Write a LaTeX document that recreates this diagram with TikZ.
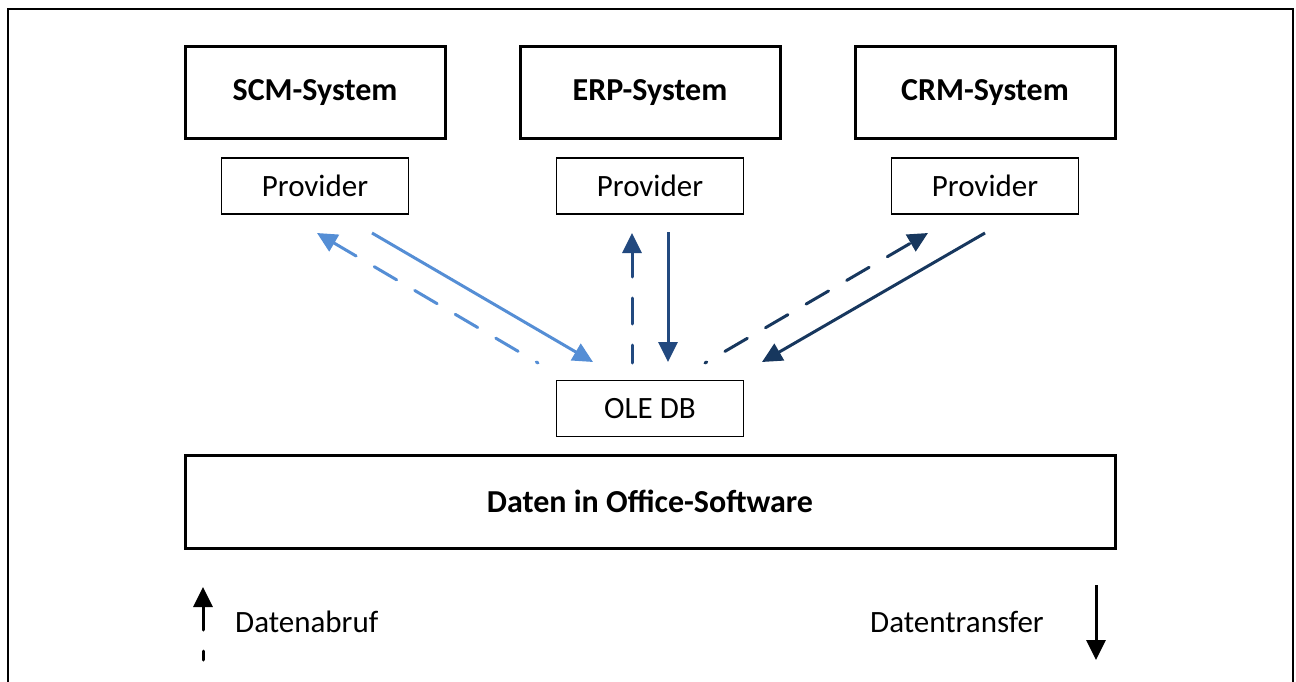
\documentclass[tikz,border=0pt]{standalone}
\usepackage{fontspec}
\setmainfont{Carlito}
\usetikzlibrary{arrows.meta}
\definecolor{lightflow}{HTML}{558ED5}
\definecolor{midflow}{HTML}{22497F}
\definecolor{darkflow}{HTML}{17375E}
\tikzset{
  sysbox/.style={draw=black, line width=3pt, minimum width=260pt, minimum height=92pt,
    inner sep=0pt, font=\fontsize{32}{38}\selectfont\bfseries},
  provbox/.style={draw=black, line width=1.4pt, minimum width=187pt, minimum height=56pt,
    inner sep=0pt, font=\fontsize{31}{37}\selectfont},
  flow/.style={line width=3pt, -{Triangle[length=20pt,width=19pt]}},
  fetch/.style={flow, line cap=round, dash pattern=on 26pt off 21pt},
  legendtext/.style={inner sep=0pt, font=\fontsize{31}{37}\selectfont}
}
\begin{document}
\begin{tikzpicture}[x=1pt, y=-1pt]
  \useasboundingbox (0,0) rectangle (1296,682);
  % open frame
  \draw[line width=2.4pt] (8,690) -- (8,9) -- (1293,9) -- (1293,690);

  % systems and their providers
  \node[sysbox] (scm) at (315,93) {SCM-System};
  \node[sysbox] (erp) at (650,93) {ERP-System};
  \node[sysbox] (crm) at (985,93) {CRM-System};
  \node[provbox] (pscm) at (315,186) {Provider};
  \node[provbox] (perp) at (650,186) {Provider};
  \node[provbox] (pcrm) at (985,186) {Provider};

  % OLE DB layer and office data
  \node[provbox] (ole) at (650,408.5) {OLE DB};
  \node[sysbox, minimum width=930pt, minimum height=93pt] (office) at (650,501.5) {Daten in Office-Software};

  % arrow end points
  \coordinate (scmTop) at (372,233);   \coordinate (scmTip) at (593,362);
  \coordinate (scmLow) at (538,363);   \coordinate (scmUp) at (317,233);
  \coordinate (erpTop) at (668,232);   \coordinate (erpTip) at (668,362);
  \coordinate (erpLow) at (632,363);   \coordinate (erpUp) at (632,233);
  \coordinate (crmTop) at (985,233);   \coordinate (crmTip) at (762,362);
  \coordinate (crmLow) at (705,363);   \coordinate (crmUp) at (928,233);

  % transfers (solid) and requests (dashed)
  \draw[flow, lightflow] (scmTop) -- (scmTip);
  \draw[fetch, lightflow, dash phase=24pt] (scmLow) -- (scmUp);
  \draw[flow, midflow] (erpTop) -- (erpTip);
  \draw[fetch, midflow, dash phase=8pt] (erpLow) -- (erpUp);
  \draw[flow, darkflow] (crmTop) -- (crmTip);
  \draw[fetch, darkflow, dash phase=24pt] (crmLow) -- (crmUp);

  % legend
  \coordinate (abrufLow) at (203,660);  \coordinate (abrufTip) at (203,587);
  \draw[fetch, black, dash phase=17pt] (abrufLow) -- (abrufTip);
  \node[legendtext, anchor=west] (abruf) at (235,622) {Datenabruf};
  \coordinate (transTop) at (1096,585); \coordinate (transTip) at (1096,660);
  \draw[flow, black] (transTop) -- (transTip);
  \node[legendtext, anchor=west] (transfer) at (870,622) {Datentransfer};
\end{tikzpicture}
\end{document}
